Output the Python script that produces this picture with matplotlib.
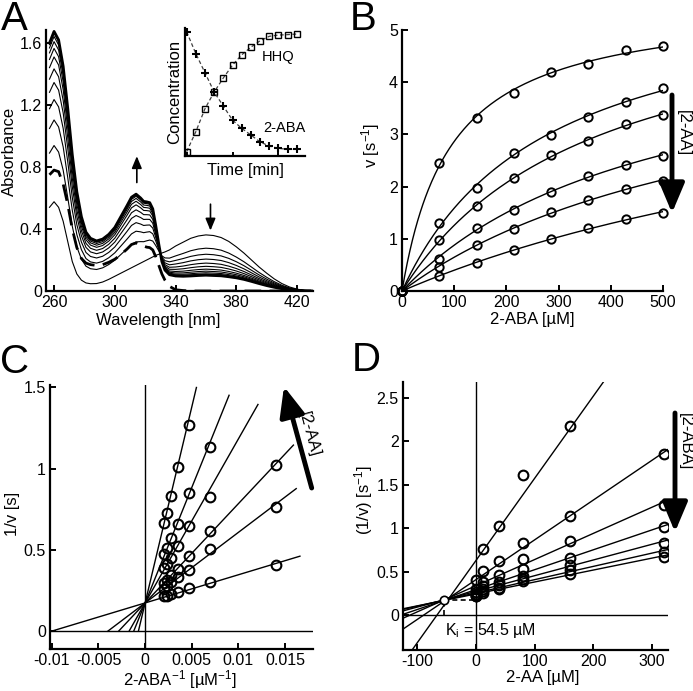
import numpy as np
import matplotlib
matplotlib.use('Agg')
import matplotlib.pyplot as plt

plt.rcParams['font.family'] = ['Liberation Sans', 'DejaVu Sans']
plt.rcParams['mathtext.fontset'] = 'custom'
plt.rcParams['mathtext.rm'] = 'Liberation Sans'
plt.rcParams['mathtext.it'] = 'Liberation Sans:italic'
plt.rcParams['mathtext.default'] = 'regular'
plt.rcParams['axes.unicode_minus'] = False
plt.rcParams['font.size'] = 12

W, H = 693, 691

#==================================================================
# Panel A - UV/vis spectra (2-ABA -> HHQ)
#==================================================================
wl = [257, 260, 263, 266, 269, 272, 275, 278, 281, 284, 288, 292, 296, 300,
      304, 308, 311, 314, 317, 319, 321, 323, 325, 327, 329, 331, 333, 336,
      340, 345, 350, 355, 360, 365, 370, 375, 380, 385, 390, 395, 400, 405,
      410, 415, 420, 425, 430]
# first spectrum (only 2-ABA)
spec_aba = [0.54, 0.576, 0.54, 0.45, 0.32, 0.19, 0.11, 0.07, 0.052, 0.047,
            0.048, 0.058, 0.075, 0.095, 0.115, 0.135, 0.15, 0.165, 0.18, 0.19,
            0.2, 0.21, 0.22, 0.23, 0.237, 0.245, 0.252, 0.265, 0.29, 0.315,
            0.34, 0.355, 0.362, 0.358, 0.345, 0.32, 0.285, 0.245, 0.2, 0.155,
            0.115, 0.078, 0.048, 0.026, 0.012, 0.004, 0.0]
# last spectrum (HHQ formed)
spec_hhq = [1.60, 1.675, 1.62, 1.45, 1.18, 0.88, 0.64, 0.48, 0.38, 0.34,
            0.323, 0.335, 0.365, 0.41, 0.48, 0.55, 0.605, 0.625, 0.60, 0.578,
            0.575, 0.57, 0.53, 0.42, 0.30, 0.19, 0.135, 0.105, 0.097, 0.095,
            0.097, 0.10, 0.102, 0.10, 0.098, 0.092, 0.085, 0.075, 0.062, 0.048,
            0.035, 0.024, 0.015, 0.008, 0.004, 0.001, 0.0]
# dashed reference spectrum
spec_ref = [0.75, 0.78, 0.77, 0.69, 0.56, 0.40, 0.28, 0.21, 0.18, 0.17,
            0.165, 0.17, 0.185, 0.205, 0.235, 0.27, 0.30, 0.31, 0.30, 0.29,
            0.283, 0.28, 0.265, 0.22, 0.165, 0.11, 0.07, 0.03, 0.008, 0.003,
            0.0, 0.0, 0.0, 0.0, 0.0, 0.0, 0.0, 0.0, 0.0, 0.0, 0.0, 0.0, 0.0,
            0.0, 0.0, 0.0, 0.0]
# fraction converted for the intermediate spectra
conversion = [0, 0.33, 0.48, 0.6, 0.7, 0.78, 0.85, 0.9, 0.94, 0.97, 0.99]

# inset: time course
t_idx = list(range(13))
conc_hhq = [0.034, 0.19, 0.37, 0.50, 0.61, 0.71, 0.79, 0.85, 0.90, 0.935,
            0.945, 0.948, 0.953]
conc_aba = [0.97, 0.80, 0.65, 0.50, 0.39, 0.28, 0.216, 0.164, 0.11, 0.078,
            0.06, 0.052, 0.052]

#==================================================================
# Panel B - rates vs 2-ABA at increasing 2-AA
#==================================================================
aba_conc = [0, 71.4, 142.9, 214.3, 285.7, 357.1, 428.6, 500]
aa_conc = [0, 12.5, 40, 80, 160, 320]
rates = [
    [0, 2.46, 3.32, 3.80, 4.20, 4.34, 4.62, 4.69],
    [0, 1.31, 1.97, 2.65, 2.98, 3.34, 3.63, 3.88],
    [0, 0.98, 1.62, 2.16, 2.60, 2.88, 3.19, 3.38],
    [0, 0.62, 1.21, 1.55, 1.90, 2.21, 2.42, 2.59],
    [0, 0.46, 0.88, 1.18, 1.52, 1.75, 1.95, 2.11],
    [0, 0.28, 0.54, 0.79, 0.99, 1.20, 1.38, 1.50],
]
ki_value = 54.5

# end of the fitted lines in panel C (1/2-ABA units)
c_line_end = [0.0166, 0.0162, 0.0159, 0.0121, 0.0090, 0.0055]


def style(ax):
    for s in ['top', 'right']:
        ax.spines[s].set_visible(False)
    for s in ['left', 'bottom']:
        ax.spines[s].set_linewidth(1.6)
    ax.tick_params(direction='in', length=4, width=1.4, labelsize=11.5, pad=3)


def fig_px(x, y):
    return (x / W, 1 - y / H)


fig = plt.figure(figsize=(W / 100, H / 100), dpi=100)

#------------------------------------------------------------------
# A
#------------------------------------------------------------------
axA = fig.add_axes([46 / W, 1 - 291 / H, 267 / W, 261 / H])
style(axA)
wl_a = np.array(wl)
aba = np.array(spec_aba)
hhq = np.array(spec_hhq)
for f in conversion:
    axA.plot(wl_a, aba + f * (hhq - aba), 'k-', lw=0.8)
axA.plot(wl_a, hhq, 'k-', lw=2.0)
axA.plot(wl_a, spec_ref, 'k-', lw=2.0, dashes=(6, 3))
axA.set_xlim(254.7, 430.5)
axA.set_ylim(0, 1.684)
axA.set_xticks([260, 300, 340, 380, 420])
axA.set_xticklabels(['260', '300', '340', '380', '420'])
axA.set_yticks([0, 0.4, 0.8, 1.2, 1.6])
axA.set_yticklabels(['0', '0.4', '0.8', '1.2', '1.6'])
axA.set_xlabel('Wavelength [nm]')
axA.set_ylabel('Absorbance')
axA.xaxis.set_label_coords(0.42, -0.085)
axA.yaxis.set_label_coords(-0.11, 0.536)
axA.annotate('', xy=(314.5, 0.87), xytext=(314.5, 0.70),
             arrowprops=dict(arrowstyle='-|>,head_length=0.6,head_width=0.25',
                             lw=1.2, color='k', shrinkA=0, shrinkB=0))
axA.annotate('', xy=(363, 0.39), xytext=(363, 0.56),
             arrowprops=dict(arrowstyle='-|>,head_length=0.6,head_width=0.25',
                             lw=1.2, color='k', shrinkA=0, shrinkB=0))

# inset
axI = fig.add_axes([185 / W, 1 - 156 / H, 120 / W, 128 / H])
style(axI)
axI.plot(t_idx, conc_hhq, color='0.25', lw=0.9, dashes=(3, 2))
axI.plot(t_idx, conc_hhq, 'ks', ms=5, mfc='none', mew=1.0)
axI.plot(t_idx, conc_aba, color='0.25', lw=0.9, dashes=(3, 2))
axI.plot(t_idx, conc_aba, 'k+', ms=5.5, mew=1.5)
axI.set_xlim(-0.18, 12.9)
axI.set_ylim(0, 1.0)
axI.set_xticks([0, 5, 10])
axI.set_yticks([])
axI.set_xticklabels([])
axI.tick_params(length=3)
axI.set_xlabel('Time [min]', labelpad=2)
axI.set_ylabel('Concentration', labelpad=2)
axI.text(8.2, 0.77, 'HHQ', fontsize=10.5, va='center')
axI.text(8.4, 0.22, '2-ABA', fontsize=10.5, va='center')

#------------------------------------------------------------------
# B
#------------------------------------------------------------------
axB = fig.add_axes([402 / W, 1 - 291 / H, 261 / W, 261 / H])
style(axB)
s_arr = np.array(aba_conc)
s_fit = np.linspace(0, 500, 300)
km_grid = np.linspace(20, 6000, 6000)
F = s_arr[None, :] / (km_grid[:, None] + s_arr[None, :])
for v in rates:
    v = np.array(v)
    vmax = (F @ v) / (F * F).sum(axis=1)
    sse = ((v[None, :] - vmax[:, None] * F) ** 2).sum(axis=1)
    k = np.argmin(sse)
    axB.plot(s_fit, vmax[k] * s_fit / (km_grid[k] + s_fit), 'k-', lw=1.0)
    axB.plot(s_arr, v, 'o', color='k', mfc='none', ms=6, mew=1.4,
             clip_on=False)
axB.set_xlim(0, 500)
axB.set_ylim(0, 5)
axB.set_xticks([0, 100, 200, 300, 400, 500])
axB.set_xticklabels(['0', '100', '200', '300', '400', '500'])
axB.set_yticks([0, 1, 2, 3, 4, 5])
axB.set_yticklabels(['0', '1', '2', '3', '4', '5'])
axB.set_xlabel('2-ABA [µM]')
axB.set_ylabel('v [s$^{-1}$]')
axB.xaxis.set_label_coords(0.50, -0.08)
axB.yaxis.set_label_coords(-0.075, 0.556)

#------------------------------------------------------------------
# C  Lineweaver-Burk
#------------------------------------------------------------------
axC = fig.add_axes([50 / W, 1 - 649 / H, 263 / W, 264 / H])
style(axC)
inv_s = 1.0 / s_arr[1:]
inv_v = [1.0 / np.array(v[1:]) for v in rates]
# global fit with a shared intercept
n = len(rates)
rows, rhs = [], []
for j in range(n):
    for x, y in zip(inv_s, inv_v[j]):
        r = np.zeros(n + 1)
        r[0] = 1.0
        r[j + 1] = x
        rows.append(r)
        rhs.append(y)
sol = np.linalg.lstsq(np.array(rows), np.array(rhs), rcond=None)[0]
b0 = sol[0]
axC.axhline(0, color='k', lw=1.0)
axC.axvline(0, color='k', lw=1.0)
for j in range(n):
    kj = sol[j + 1]
    xs = np.array([-b0 / kj, c_line_end[j]])
    axC.plot(xs, b0 + kj * xs, 'k-', lw=1.0)
    axC.plot(inv_s, inv_v[j], 'o', color='k', mfc='none', ms=7, mew=1.5)
axC.set_xlim(-0.0102, 0.018)
axC.set_ylim(-0.11, 1.515)
axC.set_xticks([-0.01, -0.005, 0, 0.005, 0.01, 0.015])
axC.set_xticklabels(['-0.01', '-0.005', '0', '0.005', '0.01', '0.015'])
axC.set_yticks([0, 0.5, 1, 1.5])
axC.set_yticklabels(['0', '0.5', '1', '1.5'])
axC.set_xlabel('2-ABA$^{-1}$ [µM$^{-1}$]')
axC.set_ylabel('1/v [s]')
axC.xaxis.set_label_coords(0.494, -0.072)
axC.yaxis.set_label_coords(-0.114, 0.51)

#------------------------------------------------------------------
# D  Dixon plot
#------------------------------------------------------------------
axD = fig.add_axes([403 / W, 1 - 650 / H, 265 / W, 268 / H])
style(axD)
axD.set_xlim(-124.6, 327.6)
axD.set_ylim(-0.403, 2.68)
i_arr = np.array(aa_conc)
v_tab = np.array(rates)[:, 1:]
xl = np.array(axD.get_xlim())
axD.axhline(0, color='k', lw=1.0)
axD.axvline(0, color='k', lw=1.0)
y_at_ki = []
for i in range(v_tab.shape[1]):
    y = 1.0 / v_tab[:, i]
    p = np.polyfit(i_arr, y, 1)
    y_at_ki.append(np.polyval(p, -ki_value))
    axD.plot(xl, np.polyval(p, xl), 'k-', lw=1.0)
    axD.plot(i_arr, y, 'o', color='k', mfc='none', ms=7, mew=1.5)
y_int = np.median(y_at_ki)
axD.plot([-ki_value, 0], [y_int, y_int], 'k-', lw=1.2, dashes=(3, 2))
axD.plot([-ki_value, -ki_value], [0, y_int], 'k-', lw=1.2, dashes=(3, 2))
axD.plot([-ki_value], [y_int], 'o', color='k', mfc='white', ms=6, mew=1.2)
axD.text(-ki_value + 2, -0.18, 'K$_{i}$ = %.1f µM' % ki_value, fontsize=11.5,
         va='center', ha='left')
axD.set_xticks([-100, 0, 100, 200, 300])
axD.set_xticklabels(['-100', '0', '100', '200', '300'])
axD.set_yticks([0, 0.5, 1, 1.5, 2, 2.5])
axD.set_yticklabels(['0', '0.5', '1', '1.5', '2', '2.5'])
axD.set_xlabel('2-AA [µM]')
axD.set_ylabel('(1/v) [s$^{-1}$]')
axD.xaxis.set_label_coords(0.528, -0.075)
axD.yaxis.set_label_coords(-0.105, 0.56)

#------------------------------------------------------------------
# arrows and panel letters
#------------------------------------------------------------------
big_arrow = dict(arrowstyle='-|>,head_length=0.9,head_width=0.38', lw=3.5,
                 color='k', shrinkA=0, shrinkB=0, mutation_scale=20)
fig.add_artist(matplotlib.patches.FancyArrowPatch(
    fig_px(672, 95), fig_px(672, 213), transform=fig.transFigure, **big_arrow))
fig.text(*fig_px(683, 133), '[2-AA]', rotation=-90, ha='center', va='center',
         fontsize=12)
fig.add_artist(matplotlib.patches.FancyArrowPatch(
    fig_px(311.7, 488), fig_px(284, 386.5), transform=fig.transFigure,
    **big_arrow))
fig.text(*fig_px(309, 434), '[2-AA]', rotation=-75, ha='center', va='center',
         fontsize=12)
fig.add_artist(matplotlib.patches.FancyArrowPatch(
    fig_px(675, 413), fig_px(675, 532), transform=fig.transFigure, **big_arrow))
fig.text(*fig_px(685, 442), '[2-ABA]', rotation=-90, ha='center',
         va='center', fontsize=12)

for letter, (x, y) in zip('ABCD', [(1, 0), (350, 0), (0, 343), (352, 341)]):
    fig.text(*fig_px(x, y), letter, fontsize=29, ha='left', va='top')

fig.savefig('out.png', dpi=100)
